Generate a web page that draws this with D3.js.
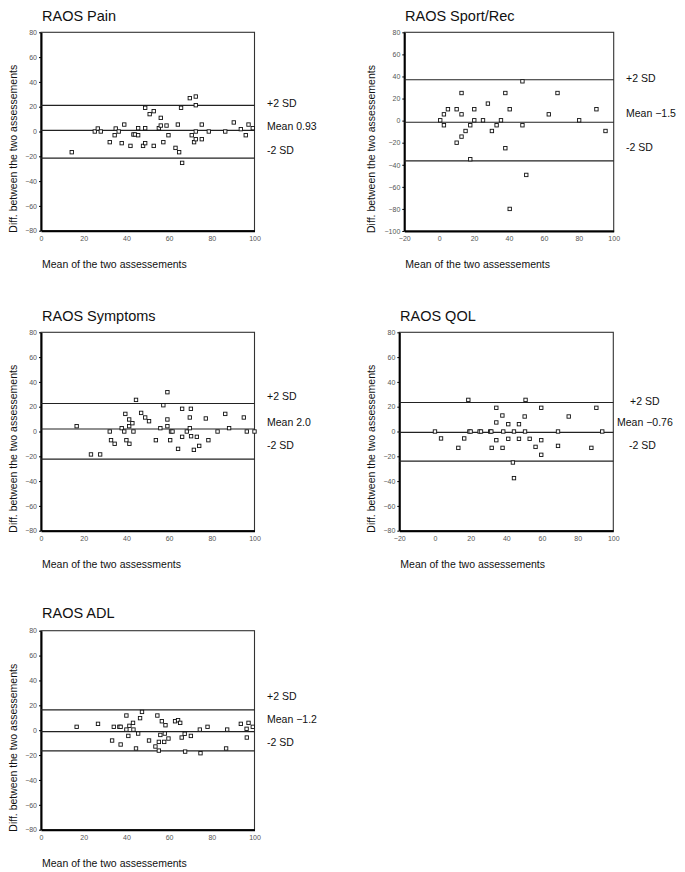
<!DOCTYPE html>
<html>
<head>
<meta charset="utf-8">
<script src="https://cdn.jsdelivr.net/npm/d3@7"></script>
<style>
  html, body { margin: 0; padding: 0; background: #fff; }
  svg { display: block; font-family: "Liberation Sans", Arial, Helvetica, sans-serif; }
</style>
</head>
<body>
<svg id="chart" width="685" height="872"></svg>
<script>
// ---------------- DATA ----------------
const panelTitles = ["RAOS Pain", "RAOS Sport/Rec", "RAOS Symptoms", "RAOS QOL", "RAOS ADL"];
const xAxisTitles = ["Mean of the two assessements", "Mean of the two assessements",
  "Mean of the two assessments", "Mean of the two assessements", "Mean of the two assessements"];
const yAxisTitle = "Diff. between the two assessements";
const meanLabels = ["Mean 0.93", "Mean \u22121.5", "Mean 2.0", "Mean \u22120.76", "Mean \u22121.2"];
const upperLabel = "+2 SD";
const lowerLabel = "-2 SD";

const meanDiff = [0.93, -1.5, 2.0, -0.76, -1.2];
const upperLimit = [21, 37, 22.6, 23.4, 16.4];
const lowerLimit = [-21.5, -36.5, -22.3, -23.9, -16.6];

const xTicksA = [0, 20, 40, 60, 80, 100];
const xTicksB = [-20, 0, 20, 40, 60, 80, 100];
const yTicksA = [-80, -60, -40, -20, 0, 20, 40, 60, 80];
const yTicksB = [-100, -80, -60, -40, -20, 0, 20, 40, 60, 80];

const painX = [14.4, 25.2, 26.6, 28, 32.2, 34.5, 35, 36.4, 37.8, 39, 41.9, 43.3, 44, 45.5, 45.5, 47.8, 48.8, 48.8, 48.8, 50.9, 52.8, 52.8, 55.2, 56.1, 56.1, 57.3, 58.8, 59.7, 64.1, 63, 64.7, 65.6, 66.1, 69.7, 70.6, 71.7, 72.5, 72.5, 72.5, 72.5, 75.3, 75.3, 78.6, 86.3, 90.3, 93.6, 95.9, 97.2, 99.2];
const painY = [-16.7, 0, 2.4, 0, -8.6, -3, 2.4, 0, -9.4, 5.6, -11.6, -2.4, -2.4, 2.7, -3, -11.6, 19.1, 2.7, -9.4, 14, 16.4, -11.6, 2.7, 11, 4.8, -8.6, 4.8, -3, 5.6, -13.2, -16.7, 19.1, -25.3, 26.9, -3, -8.6, 28.2, 21.2, 0, -6.2, 5.6, -6.2, 0, 0, 7.3, 1.9, -3, 5.6, 2.7];

const sportX = [0.6, 2.7, 2.7, 5, 10, 12.8, 12.8, 10, 12.8, 15.1, 17.8, 17.8, 20.1, 20.1, 25.1, 27.9, 30.2, 32.9, 35.4, 37.9, 37.9, 40.4, 40.4, 47.7, 47.7, 49.9, 62.8, 67.8, 80.2, 90.1, 95.3];
const sportY = [0.3, 5.7, -4.2, 10.3, 10.3, 25, 5.7, -20, -14.5, -9.4, -4.2, -35, 10.3, 0.3, 0.3, 15.4, -9.4, -4.2, 0.3, 25, -25, 10.3, -80, 35.6, -4.2, -49.2, 5.7, 25, 0.3, 10.3, -9.4];

const symptomsX = [16.7, 23.4, 27.7, 32.2, 32.8, 34.5, 37.8, 39, 39.5, 40, 41.3, 41.3, 41.4, 42.8, 43.3, 44.5, 46.9, 48.8, 50.6, 53.8, 55.9, 57.3, 59.2, 59.2, 59.2, 60.5, 60.9, 61.6, 64.2, 66.1, 66.1, 68.3, 69.7, 69.7, 70.2, 70.3, 71.6, 73, 74.1, 77.2, 78.4, 82.7, 86.3, 88.1, 95, 96.4, 100];
const symptomsY = [4.3, -18.5, -18.5, 0, -7, -9.9, 2.7, 0, 14.2, -7, 9.7, 4.3, -9.9, 6.7, 0, 25.5, 15, 11.3, 8.3, -7, 2.7, 21.2, 31.7, 9.7, 4.3, -7, 0, 0, -14, 18.3, -4.3, 0, 11.3, 2.7, 18.3, -3.8, -14.8, -4.3, -11.6, 10.5, -7, 0, 14.2, 2.7, 11.3, 0, 0];

const qolX = [0, 3.4, 13.1, 16.4, 18.7, 19.3, 20, 25, 25.8, 31, 31.6, 31.8, 34.4, 34.4, 34.4, 37.8, 37.9, 38.3, 41.1, 41.1, 43.7, 44.3, 44.3, 47.1, 47.1, 50.3, 50.5, 50.8, 53.1, 56.4, 59.6, 59.6, 59.6, 69, 69, 75, 87.7, 90.5, 93.8];
const qolY = [0, -5.6, -13.2, -5.6, 25.5, 0, 0, 0, 0, 0, 0, -13.2, 19.1, 7.3, -7, 12.9, -13.2, 0, 5.9, -5.9, -25, 0, -37.6, 5.9, -5.9, 12.1, 0, 25.5, -5.9, -12.4, 19.1, -7, -18.8, 0, -11.6, 12.1, -13.2, 19.1, 0];

const adlX = [16.7, 26.7, 33.3, 34.1, 36.7, 37.3, 37.3, 40, 40, 40.9, 41.4, 43.1, 43.3, 44.5, 45.5, 46.4, 47.3, 50.6, 53.6, 54.5, 55.2, 55.2, 55.9, 56.6, 57.7, 58, 58.3, 59.7, 62.8, 64.2, 65.2, 65.9, 67.3, 67.5, 70.2, 74.4, 74.7, 78, 86.7, 87.2, 93.6, 96.3, 96.4, 97.2, 99.2];
const adlY = [2.7, 5.1, -8.3, 2.7, 2.7, 2.7, -11.5, 11.8, 0.5, -4.6, 3.5, 5.9, 0.5, -14.7, -2.7, 9.7, 14.7, -8.3, -13.1, 11.8, -9.4, -16.4, -3.8, 7.2, -9.4, -2.7, 4, -6.7, 7.2, 8, 5.9, -5.9, -2.9, -17.2, -4.6, 0.5, -18.5, 2.7, -14.7, 0.5, 5.1, 1.1, -5.9, 5.9, 2.7];

const seriesX = [painX, sportX, symptomsX, qolX, adlX];
const seriesY = [painY, sportY, symptomsY, qolY, adlY];
const xDomains = [[0, 100], [-20, 100], [0, 100], [-20, 100], [0, 100]];
const yDomains = [[-80, 80], [-100, 80], [-80, 80], [-80, 80], [-80, 80]];
const xTickSets = [xTicksA, xTicksB, xTicksA, xTicksB, xTicksA];
const yTickSets = [yTicksA, yTicksB, yTicksA, yTicksA, yTicksA];

// ---------------- LAYOUT ----------------
const layout = [
  { l: 41, r: 254.5, t: 32.3, b: 230.7, titleX: 42, titleY: 20.7, yLabX: 16.5, xLabY: 268,
    labX: [267, 267, 267], labY: [107.3, 130, 154] },
  { l: 404.3, r: 613.7, t: 32.3, b: 231, titleX: 405, titleY: 20.7, yLabX: 375, xLabY: 268,
    labX: [626, 626, 626], labY: [81.7, 116.7, 151.3] },
  { l: 41, r: 254.5, t: 332.3, b: 530.7, titleX: 42, titleY: 320.7, yLabX: 16.5, xLabY: 568,
    labX: [267, 267, 267], labY: [400, 425.7, 449.3] },
  { l: 399.3, r: 613.3, t: 332.3, b: 530.7, titleX: 400, titleY: 320.7, yLabX: 375, xLabY: 568,
    labX: [630, 617, 629], labY: [404.7, 426, 449.3] },
  { l: 41, r: 254.5, t: 630.7, b: 829.7, titleX: 42, titleY: 618.3, yLabX: 16.5, xLabY: 866.5,
    labX: [267, 267, 267], labY: [700, 723.3, 746] }
];

const svg = d3.select("#chart");

layout.forEach((L, i) => {
  const x = d3.scaleLinear().domain(xDomains[i]).range([L.l, L.r]);
  const y = d3.scaleLinear().domain(yDomains[i]).range([L.b, L.t]);
  const g = svg.append("g");

  // title
  g.append("text").attr("x", L.titleX).attr("y", L.titleY)
    .attr("font-size", 14.5).attr("fill", "#111").text(panelTitles[i]);

  // frame top/right
  g.append("rect").attr("x", L.l).attr("y", L.t)
    .attr("width", L.r - L.l).attr("height", L.b - L.t)
    .attr("fill", "none").attr("stroke", "#333").attr("stroke-width", 1.1);

  // y axis
  const ya = g.append("g").attr("transform", `translate(${L.l},0)`)
    .call(d3.axisLeft(y).tickValues(yTickSets[i]).tickSize(2).tickPadding(2).tickSizeOuter(0));
  ya.select(".domain").attr("stroke", "#000").attr("stroke-width", 2);
  ya.selectAll(".tick line").attr("stroke", "#000");
  ya.selectAll(".tick text").attr("font-size", 7).attr("fill", "#555")
    .attr("font-family", "'Liberation Sans', Arial, sans-serif");

  // x axis
  const xa = g.append("g").attr("transform", `translate(0,${L.b})`)
    .call(d3.axisBottom(x).tickValues(xTickSets[i]).tickSize(0).tickPadding(5).tickSizeOuter(0));
  xa.select(".domain").attr("stroke", "#000").attr("stroke-width", 2);
  xa.selectAll(".tick text").attr("font-size", 7).attr("fill", "#555")
    .attr("font-family", "'Liberation Sans', Arial, sans-serif");

  // reference lines
  [upperLimit[i], meanDiff[i], lowerLimit[i]].forEach(v => {
    g.append("line").attr("x1", L.l).attr("x2", L.r)
      .attr("y1", y(v)).attr("y2", y(v))
      .attr("stroke", "#222").attr("stroke-width", 1.2);
  });

  // points
  const pts = seriesX[i].map((vx, k) => [vx, seriesY[i][k]]);
  const s = 3.4;
  g.append("g").selectAll("rect").data(pts).join("rect")
    .attr("x", d => x(d[0]) - s / 2).attr("y", d => y(d[1]) - s / 2)
    .attr("width", s).attr("height", s)
    .attr("fill", "#fff").attr("stroke", "#111").attr("stroke-width", 0.9);

  // right labels
  const labs = [upperLabel, meanLabels[i], lowerLabel];
  labs.forEach((t, k) => {
    g.append("text").attr("x", L.labX[k]).attr("y", L.labY[k])
      .attr("font-size", 10.5).attr("fill", "#111").text(t);
  });

  // y axis title
  g.append("text")
    .attr("transform", `translate(${L.yLabX},${L.b + 2}) rotate(-90)`)
    .attr("font-size", 10.5).attr("fill", "#111").text(yAxisTitle);

  // x axis title
  g.append("text").attr("x", L.l + 1).attr("y", L.xLabY)
    .attr("font-size", 10.5).attr("fill", "#111").text(xAxisTitles[i]);
});
</script>
</body>
</html>
